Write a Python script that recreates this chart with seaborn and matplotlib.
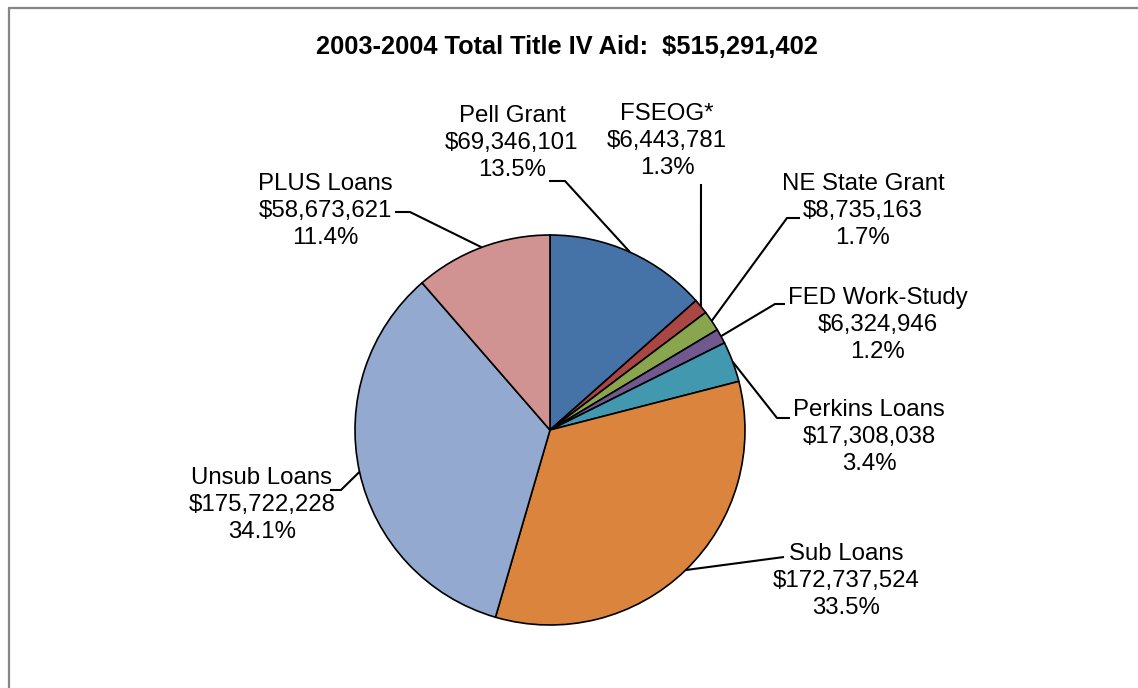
import matplotlib
matplotlib.use("Agg")
import matplotlib.pyplot as plt
import seaborn as sns
import numpy as np

# ---- data ----
categories = ["Pell Grant", "FSEOG*", "NE State Grant", "FED Work-Study",
              "Perkins Loans", "Sub Loans", "Unsub Loans", "PLUS Loans"]
amounts = [69346101, 6443781, 8735163, 6324946,
           17308038, 172737524, 175722228, 58673621]
colors = ["#4572A7", "#AA4643", "#89A54E", "#71588F",
          "#4198AF", "#DB843D", "#93A9CF", "#D19392"]
title = "2003-2004 Total Title IV Aid:  $515,291,402"

# ---- layout (pixel space, y measured from top) ----
W, H = 1138, 688
cx, cy, R = 550, 430, 195
label_pos = [(512, 143), (667, 141), (863, 211), (878, 325),
             (869, 437), (846, 581), (262, 505), (325, 211)]
# leader path from label side: list of points (pixel coords), then goes to wedge edge
leader_pts = [
    [(549, 181), (565, 181)],
    [(701, 184)],
    [(800, 218), (787, 218)],
    [(785, 304), (775, 304)],
    [(790, 418), (777, 418)],
    [(784, 557)],
    [(330, 490), (341, 490)],
    [(395, 212), (410, 212)],
]

sns.set_theme(style="white")
plt.rcParams["font.family"] = ["Liberation Sans", "DejaVu Sans"]

fig = plt.figure(figsize=(W / 100, H / 100), dpi=100)
ax = fig.add_axes([0, 0, 1, 1])

def Y(y):
    return H - y

wedges, _ = ax.pie(amounts, colors=colors, startangle=90, counterclock=False,
                   center=(cx, Y(cy)), radius=R,
                   wedgeprops=dict(edgecolor="black", linewidth=1.2))
ax.set_xlim(0, W)
ax.set_ylim(0, H)
ax.set_aspect("equal")
ax.axis("off")

total = sum(amounts)
for i, (name, amt) in enumerate(zip(categories, amounts)):
    pct = amt / total * 100
    txt = f"{name}\n${amt:,.0f}\n{pct:.1f}%"
    lx, ly = label_pos[i]
    ax.text(lx, Y(ly), txt, ha="center", va="center", fontsize=17.3,
            linespacing=1.27, color="black")
    w = wedges[i]
    mid = np.deg2rad((w.theta1 + w.theta2) / 2)
    ex = cx + R * np.cos(mid)
    ey = Y(cy) + R * np.sin(mid)
    pts = [(px, Y(py)) for px, py in leader_pts[i]] + [(ex, ey)]
    xs, ys = zip(*pts)
    ax.plot(xs, ys, color="black", linewidth=1.5, solid_capstyle="butt")

ax.text(567, Y(47), title, ha="center", va="center", fontsize=18.3,
        fontweight="bold", color="black")

# chart border (top and left visible)
ax.plot([9, W], [Y(8), Y(8)], color="#868686", linewidth=1.6, clip_on=False)
ax.plot([9, 9], [Y(8), 0], color="#868686", linewidth=1.6, clip_on=False)

fig.savefig("out.png", dpi=100, facecolor="white")
